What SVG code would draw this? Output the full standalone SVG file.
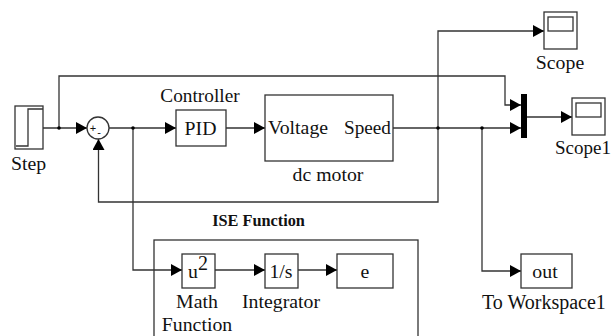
<svg xmlns="http://www.w3.org/2000/svg" width="612" height="336" viewBox="0 0 612 336">
<defs>
<style>
.b{fill:#fff;stroke:#333;stroke-width:1.3}
.w{fill:none;stroke:#333;stroke-width:1.3}
.t{font-family:"Liberation Serif","Times New Roman",serif;font-size:19.8px;fill:#111}
.m{text-anchor:middle}
</style>
<marker id="a" markerUnits="userSpaceOnUse" markerWidth="11" markerHeight="12" refX="11" refY="6" orient="auto"><path d="M0 0L11 6L0 12Z" fill="#000"/></marker>
</defs>
<rect width="612" height="336" fill="#fff"/>
<g id="ise"><rect class="b" x="154" y="240" width="264" height="110"/><text class="m" x="258.500" y="226" style="font-family:'Liberation Serif',serif;font-size:16.300px;font-weight:bold;fill:#111">ISE Function</text></g>
<g id="connectors">
<path class="w" d="M43 128H87" marker-end="url(#a)"/>
<path class="w" d="M59 128V76H505V105H521" marker-end="url(#a)"/>
<path class="w" d="M109 128H176" marker-end="url(#a)"/>
<path class="w" d="M133 128V270H182" marker-end="url(#a)"/>
<path class="w" d="M226 128H265" marker-end="url(#a)"/>
<path class="w" d="M393 128H521" marker-end="url(#a)"/>
<path class="w" d="M438 128V202H98.500V139" marker-end="url(#a)"/>
<path class="w" d="M438 128V31H544" marker-end="url(#a)"/>
<path class="w" d="M482 128V271H521" marker-end="url(#a)"/>
<path class="w" d="M527 117H572" marker-end="url(#a)"/>
<path class="w" d="M215 270H265" marker-end="url(#a)"/>
<path class="w" d="M298 270H337" marker-end="url(#a)"/>
<circle cx="59" cy="128" r="1.800"/><circle cx="133" cy="128" r="1.800"/><circle cx="438" cy="128" r="1.800"/><circle cx="482" cy="128" r="1.800"/>
</g>
<g id="step"><rect class="b" x="15" y="106" width="28" height="43"/><path class="w" d="M16 146H28V109H43"/><text class="t" x="11" y="170">Step</text></g>
<g id="sum"><circle class="b" cx="98" cy="128" r="11"/><text x="93" y="132" style="font-family:'Liberation Sans',sans-serif;font-size:11px;fill:#111" text-anchor="middle">+</text><text x="99" y="136" style="font-family:'Liberation Sans',sans-serif;font-size:11px;fill:#111" text-anchor="middle">-</text></g>
<g id="pid"><rect class="b" x="176" y="110" width="50" height="36"/><text class="t m" x="200.500" y="135">PID</text><text class="t m" x="200" y="102" style="font-size:19.300px">Controller</text></g>
<g id="motor"><rect class="b" x="265" y="95" width="128" height="66"/><text class="t" x="268" y="134">Voltage</text><text class="t" x="344" y="134" style="font-size:19.200px">Speed</text><text class="t m" x="328" y="181">dc motor</text></g>
<g id="scope"><rect class="b" x="544" y="12" width="33" height="37"/><rect class="b" x="548" y="17" width="25" height="14"/><text class="t m" x="560" y="69">Scope</text></g>
<g id="mux"><rect x="521" y="94" width="6" height="44" fill="#000"/></g>
<g id="scope1"><rect class="b" x="572" y="98" width="33" height="37"/><rect class="b" x="576" y="103" width="25" height="14"/><text class="t" x="555" y="154" style="font-size:19px">Scope1</text></g>
<g id="out"><rect class="b" x="521" y="254" width="51" height="34"/><text class="t m" x="545" y="278">out</text><text class="t" x="482" y="309" style="font-size:20px">To Workspace1</text></g>
<g id="math"><rect class="b" x="182" y="254" width="33" height="34"/><text class="t" x="188" y="278">u</text><text x="198" y="270" style="font-family:'Liberation Serif',serif;font-size:20px;fill:#111">2</text><text class="t m" x="197" y="308">Math</text><text class="t m" x="197" y="331">Function</text></g>
<g id="integrator"><rect class="b" x="265" y="254" width="33" height="34"/><text class="t m" x="281" y="278">1/s</text><text class="t m" x="281" y="308">Integrator</text></g>
<g id="e"><rect class="b" x="337" y="254" width="56" height="34"/><text class="t m" x="365" y="278">e</text></g>
</svg>
